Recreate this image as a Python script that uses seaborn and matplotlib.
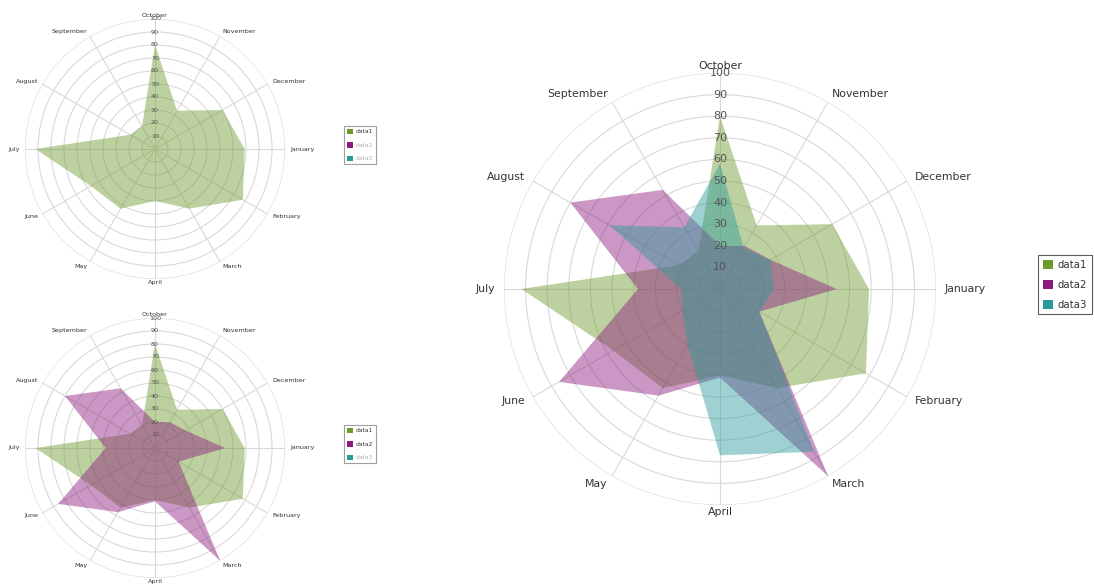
import numpy as np
import matplotlib
matplotlib.use("Agg")
import matplotlib.pyplot as plt
import seaborn as sns
from matplotlib.patches import Patch

sns.set_style("white")
plt.rcParams['font.family'] = ['DejaVu Sans']

# Data (clockwise from the top)
months = ['October', 'November', 'December', 'January', 'February', 'March',
          'April', 'May', 'June', 'July', 'August', 'September']
data1 = [80, 34, 60, 69, 78, 53, 40, 53, 57, 92, 22, 20]
data2 = [20, 23, 27, 54, 21, 100, 41, 57, 86, 38, 80, 53]
data3 = [58, 22, 27, 25, 21, 87, 77, 30, 20, 18, 59, 33]
series_names = ['data1', 'data2', 'data3']
series_values = [data1, data2, data3]
ring_values = list(range(10, 101, 10))

colors = sns.color_palette(['#6e9a2c', '#8c1a7c', '#2a9a9c'])

W, H = 1094, 587
fig = plt.figure(figsize=(W / 100, H / 100), dpi=100)

angles = np.linspace(0, 2 * np.pi, len(months), endpoint=False)


def radar(cx, cy, rad, shown, fs_month, fs_ring):
    ax = fig.add_axes([(cx - rad) / W, (H - cy - rad) / H, 2 * rad / W, 2 * rad / H],
                      projection='polar')
    ax.set_theta_zero_location('N')
    ax.set_theta_direction(-1)
    ax.set_ylim(0, 100)
    ax.set_xticks(angles)
    ax.set_xticklabels([])
    ax.set_yticks(ring_values)
    ax.set_yticklabels([])
    ax.spines['polar'].set_visible(False)
    ax.grid(True, color='#d9d9d9', lw=0.8)
    ax.set_facecolor('none')

    for i in shown:
        vals = series_values[i] + series_values[i][:1]
        ang = np.append(angles, angles[0])
        ax.fill(ang, vals, color=colors[i], alpha=0.45, lw=0, zorder=2)

    for r in ring_values:
        ax.text(0, r, str(r), ha='center', va='center', fontsize=fs_ring,
                color='#555555', zorder=3)

    for a, m in zip(angles, months):
        s, c = np.sin(a), np.cos(a)
        ha = 'left' if s > 0.1 else ('right' if s < -0.1 else 'center')
        va = 'bottom' if c > 0.9 else ('top' if c < -0.9 else 'center')
        rl = 101 if abs(s) < 0.1 else 104
        ax.text(a, rl, m, ha=ha, va=va, fontsize=fs_month, color='#333333',
                clip_on=False, zorder=3)
    return ax


def legend(x, y, shown, fs, spacing, edge):
    handles = [Patch(facecolor=colors[i], edgecolor='none') for i in range(3)]
    leg = fig.legend(handles, series_names, loc='upper left',
                     bbox_to_anchor=(x / W, 1 - y / H), fontsize=fs,
                     handlelength=1.0, handleheight=1.0, handletextpad=0.5,
                     labelspacing=spacing, borderpad=0.45, frameon=True,
                     fancybox=False, borderaxespad=0)
    leg.get_frame().set_edgecolor(edge)
    leg.get_frame().set_linewidth(0.8)
    for i, t in enumerate(leg.get_texts()):
        t.set_color('#333333' if i in shown else '#b0b0b0')


radar(155, 149, 130, [0], 4.6, 4.6)
legend(344, 126, [0], 4.3, 1.3, '#888888')

radar(155, 448, 130, [0, 1], 4.6, 4.6)
legend(344, 425, [0, 1], 4.3, 1.3, '#888888')

radar(720, 289, 216, [0, 1, 2], 7.8, 8)
legend(1038, 255, [0, 1, 2], 7.3, 1.0, '#333333')

fig.savefig('out.png', dpi=100)
